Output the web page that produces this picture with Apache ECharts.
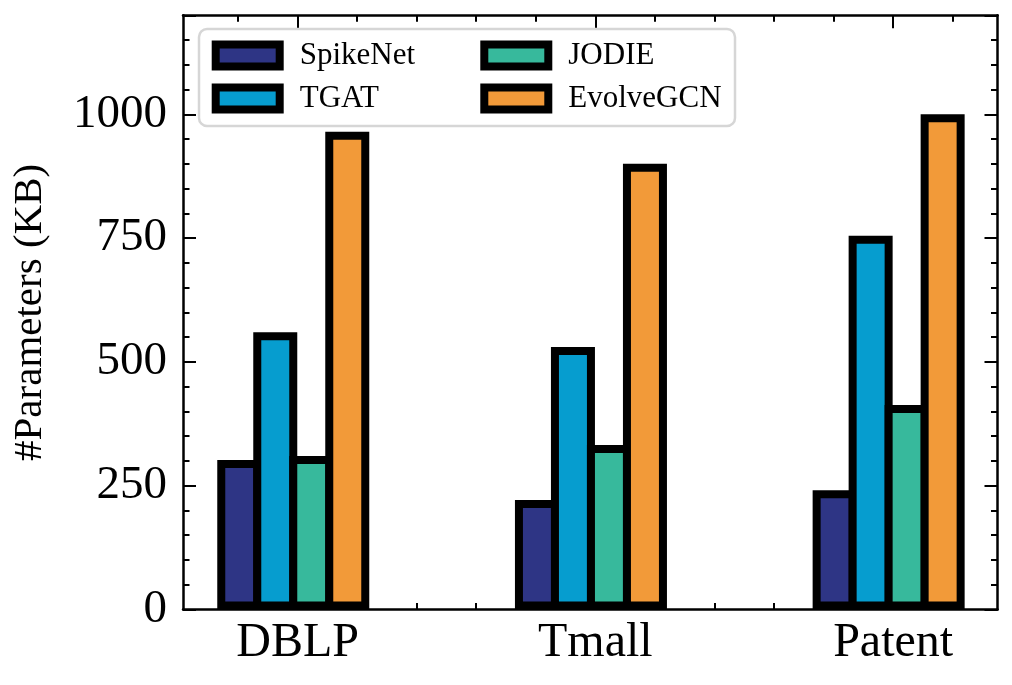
<!DOCTYPE html>
<html>
<head>
<meta charset="utf-8">
<script src="https://cdn.jsdelivr.net/npm/echarts@6/dist/echarts.min.js"></script>
<style>
html,body{margin:0;padding:0;background:#fff;}
#chart{width:1012px;height:685px;}
</style>
</head>
<body>
<div id="chart"></div>
<script>
// ---- data ----
var categories = ['DBLP', 'Tmall', 'Patent'];
var seriesNames = ['SpikeNet', 'TGAT', 'JODIE', 'EvolveGCN'];
var spikeNet = [302, 221, 241];
var tgat = [560, 530, 755];
var jodie = [310, 332, 413];
var evolveGCN = [965, 900, 1000];
var yTickLabels = [0, 250, 500, 750, 1000];

var colors = ['#2E3585', '#069DCF', '#37B99C', '#F29A39'];
var values = [spikeNet, tgat, jodie, evolveGCN];
var FONT = 'Liberation Serif';

// tick positions (category indices) and minor ticks every 0.2
var majorX = categories.map(function (c, i) { return i; });
var minorX = [];
for (var k = -1; k <= 11; k++) {
  var v = Math.round(k * 0.2 * 10) / 10;
  if (Math.abs(v - Math.round(v)) > 1e-6) minorX.push(v);
}

var tickMin = -0.3848, tickMax = 2.3505;   // axis carrying ticks/labels
var barMin = -0.3704, barMax = 2.3657;     // axis carrying bars

function lineOpt(show) {
  return { show: show, onZero: false, lineStyle: { color: '#000', width: 2.5 } };
}
function xTickAxis(pos, custom, len, showLine, showLabel) {
  return {
    type: 'value', position: pos, min: tickMin, max: tickMax,
    axisLine: lineOpt(showLine),
    axisTick: { show: true, inside: true, length: len, customValues: custom,
      lineStyle: { color: '#000', width: 2 } },
    axisLabel: showLabel ? {
      show: true, customValues: majorX, margin: 10,
      fontFamily: FONT, fontSize: 48, color: '#000',
      formatter: function (val) { return categories[Math.round(val)]; }
    } : { show: false },
    splitLine: { show: false }
  };
}
function yTickAxis(pos, interval, len, showLine, showLabel, extra) {
  var a = {
    type: 'value', position: pos, min: 0, max: 1200, interval: interval,
    axisLine: lineOpt(showLine),
    axisTick: { show: true, inside: true, length: len,
      lineStyle: { color: '#000', width: 2 } },
    axisLabel: showLabel ? {
      show: true, margin: 16, fontFamily: FONT, fontSize: 47, color: '#000',
      formatter: function (val) { return yTickLabels.indexOf(val) >= 0 ? String(val) : ''; }
    } : { show: false },
    splitLine: { show: false }
  };
  if (extra) for (var key in extra) a[key] = extra[key];
  return a;
}

var series = seriesNames.map(function (name, si) {
  return {
    name: name, type: 'bar', xAxisIndex: 4, yAxisIndex: 0,
    barWidth: 44, barGap: '-18.18%',
    data: values[si].map(function (val, ci) { return [ci, val]; }),
    itemStyle: { color: colors[si], borderColor: '#000', borderWidth: 8 },
    z: 2
  };
});

var legendCommon = {
  orient: 'vertical', icon: 'rect', itemWidth: 64, itemHeight: 22,
  itemGap: 12, padding: 0, z: 6,
  textStyle: { fontFamily: FONT, fontSize: 31, color: '#000', lineHeight: 31,
    padding: [0, 0, 0, 15] },
  itemStyle: { borderColor: '#000', borderWidth: 8 }
};
var legend1 = Object.assign({}, legendCommon, { data: [seriesNames[0], seriesNames[1]], left: 211.7, top: 40 });
var legend2 = Object.assign({}, legendCommon, { data: [seriesNames[2], seriesNames[3]], left: 480.3, top: 40 });

var option = {
  animation: false,
  backgroundColor: '#fff',
  grid: { left: 183, right: 14.5, top: 15.3, bottom: 75.5, containLabel: false },
  legend: [legend1, legend2],
  graphic: [{
    type: 'rect', z: 5, silent: true,
    shape: { x: 199, y: 29, width: 536, height: 97, r: 8 },
    style: { fill: 'rgba(255,255,255,0.85)', stroke: '#d6d6d6', lineWidth: 2.5 }
  }],
  xAxis: [
    xTickAxis('bottom', majorX, 13, true, true),
    xTickAxis('bottom', minorX, 6.5, false, false),
    xTickAxis('top', majorX, 13, true, false),
    xTickAxis('top', minorX, 6.5, false, false),
    { type: 'value', position: 'bottom', min: barMin, max: barMax, show: false }
  ],
  yAxis: [
    yTickAxis('left', 250, 13, true, true, {
      name: '#Parameters (KB)', nameLocation: 'middle', nameGap: 132,
      nameTextStyle: { fontFamily: FONT, fontSize: 41, color: '#000' }
    }),
    yTickAxis('left', 50, 6.5, false, false),
    yTickAxis('right', 250, 13, true, false),
    yTickAxis('right', 50, 6.5, false, false)
  ],
  series: series
};

var chart = echarts.init(document.getElementById('chart'));
chart.setOption(option);
</script>
</body>
</html>
